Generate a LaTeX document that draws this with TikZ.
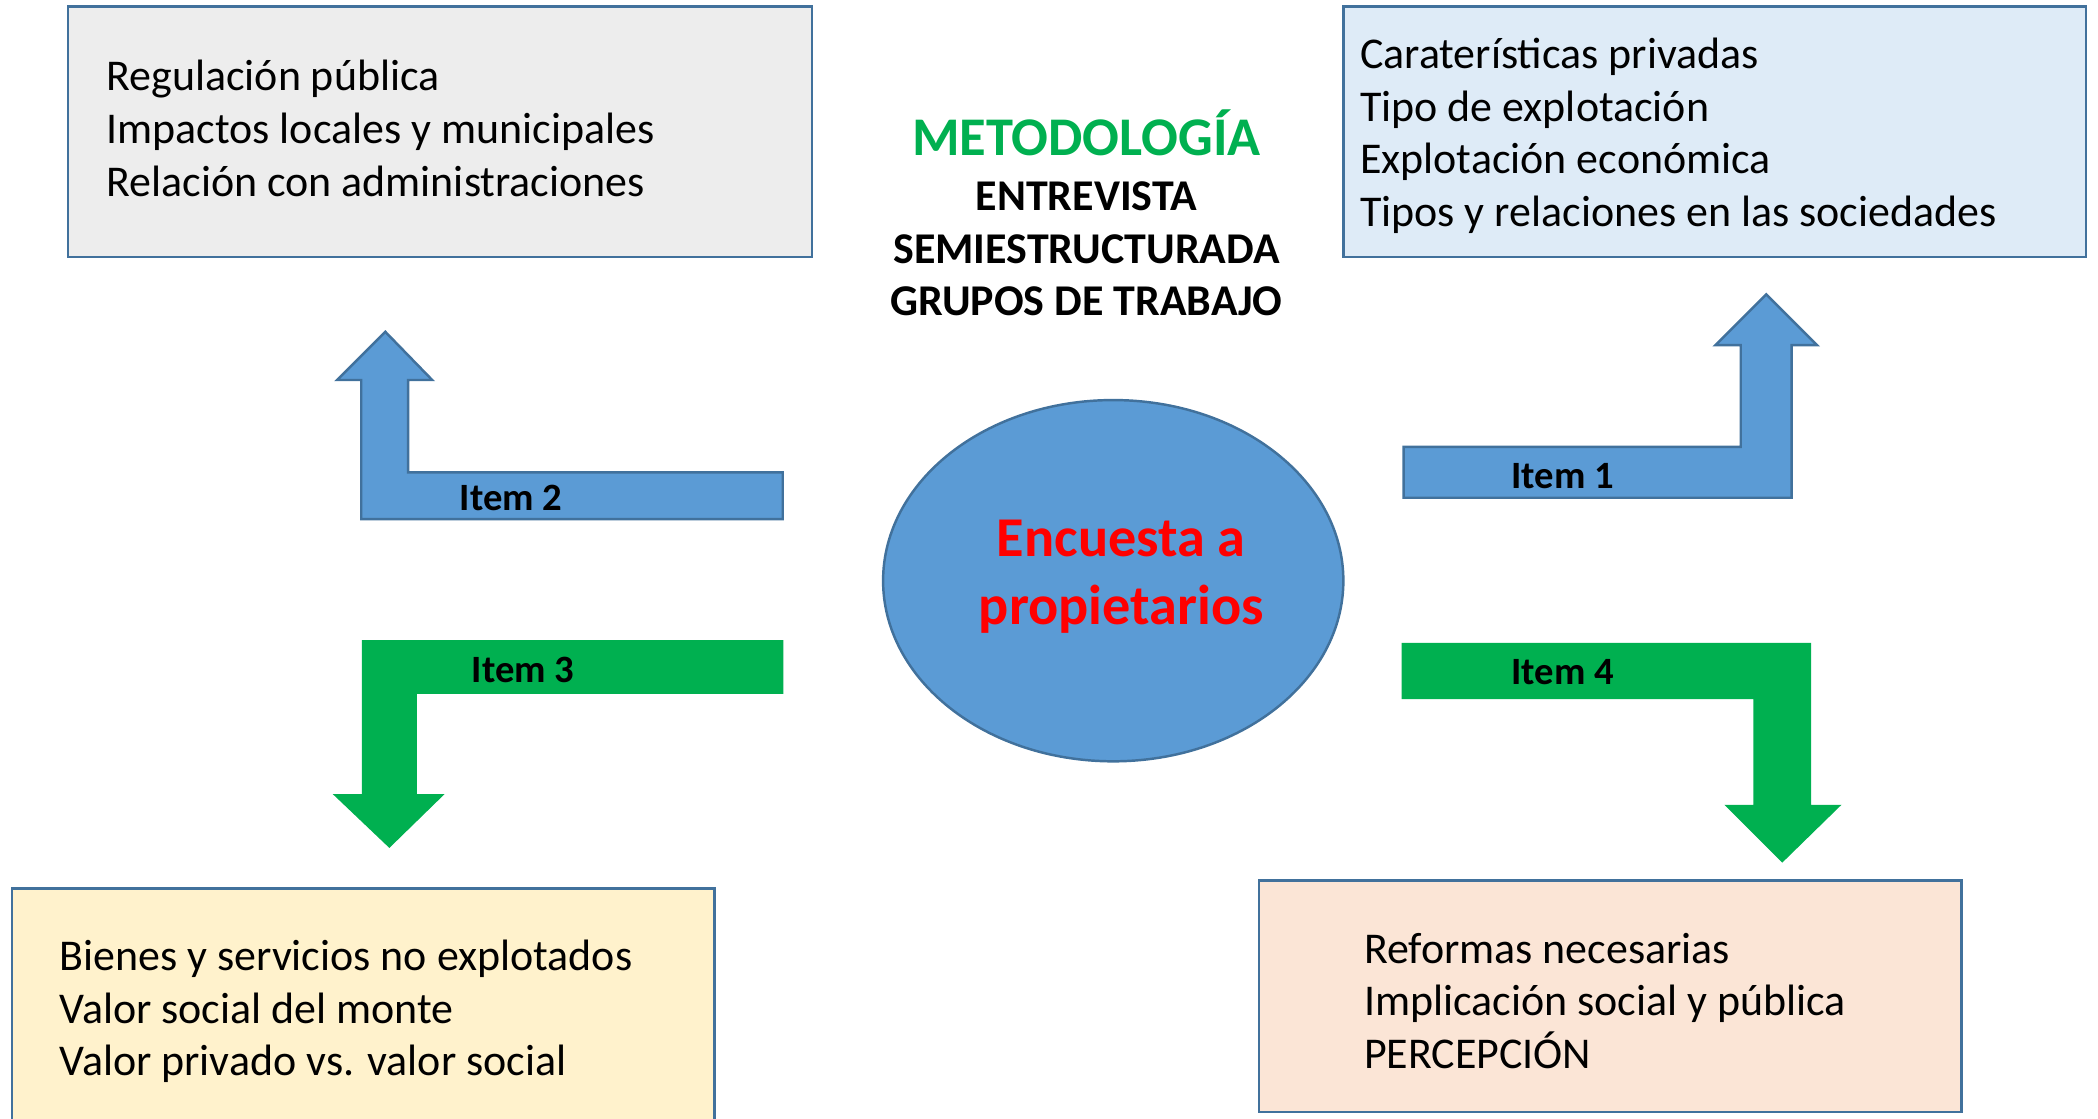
\documentclass[tikz,border=0pt]{standalone}
\usepackage{fontspec}
\setmainfont{Carlito}
\usepackage{tikz}
\usetikzlibrary{shapes.geometric}
\definecolor{edgeblue}{HTML}{41719C}
\definecolor{itemblue}{HTML}{5B9BD5}
\definecolor{itemgreen}{HTML}{00B050}
\definecolor{fillgray}{HTML}{EDEDED}
\definecolor{fillsky}{HTML}{DEEBF7}
\definecolor{fillsand}{HTML}{FFF2CC}
\definecolor{fillpeach}{HTML}{FBE5D6}
\newcommand{\pxu}{0.1338mm}

\begin{document}
\begin{tikzpicture}[x=0.1338mm, y=-0.1338mm,
  panel/.style={draw=edgeblue, line width=0.7pt, rectangle, inner sep=0pt},
  lines/.style={anchor=west, align=left, inner sep=0pt, font=\fontsize{12.5}{15}\selectfont},
  bluearrow/.style={fill=itemblue, draw=edgeblue, line width=0.7pt},
  greenarrow/.style={fill=itemgreen, draw=itemgreen, line width=0.4pt},
  itemlab/.style={font=\fontsize{11}{13}\selectfont\bfseries, inner sep=0pt}]
\useasboundingbox (0,0) rectangle (1568,836);
% four topic boxes
\node[panel, fill=fillgray, minimum width=556*\pxu, minimum height=187*\pxu] (publica) at (329,98.5) {};
\node[panel, fill=fillsky, minimum width=555*\pxu, minimum height=187*\pxu] (privada) at (1281.5,98.5) {};
\node[panel, fill=fillsand, minimum width=525*\pxu, minimum height=210*\pxu] (social) at (271.5,769) {};
\node[panel, fill=fillpeach, minimum width=525*\pxu, minimum height=173*\pxu] (reformas) at (1203.5,744.5) {};
\node[lines] (publica-txt) at (79,96) {Regulación pública\\Impactos locales y municipales\\Relación con administraciones};
\node[lines] (privada-txt) at (1016,101.5) {Caraterísticas privadas\\Tipo de explotación\\Explotación económica\\Tipos y relaciones en las sociedades};
\node[lines] (social-txt) at (44,756) {Bienes y servicios no explotados\\Valor social del monte\\Valor privado vs. valor social};
\node[lines] (reformas-txt) at (1019,748) {Reformas necesarias\\Implicación social y pública\\PERCEPCIÓN};
% method heading
\node[font=\fontsize{15.5}{18}\selectfont\bfseries, text=itemgreen, inner sep=0pt] (metodo) at (812,99) {METODOLOGÍA};
\node[font=\fontsize{12.5}{15}\selectfont\bfseries, align=center, inner sep=0pt] (tecnica) at (812,186) {ENTREVISTA\\SEMIESTRUCTURADA\\GRUPOS DE TRABAJO};
% central survey
\node[ellipse, draw=edgeblue, line width=0.7pt, fill=itemblue, minimum width=344*\pxu, minimum height=270*\pxu] (encuesta) at (832,434) {};
\node[font=\fontsize{16}{19.3}\selectfont\bfseries, text=red, align=center, inner sep=0pt] (encuesta-txt) at (838,431) {Encuesta a\\propietarios};
% bent arrows
\draw[bluearrow] (1049,334) -- (1301,334) -- (1301,258) -- (1282,258) -- (1320,220) -- (1358,258) -- (1339,258) -- (1339,372) -- (1049,372) -- cycle;
\draw[bluearrow] (585,353) -- (305,353) -- (305,284) -- (323,284) -- (288,248) -- (252,284) -- (270,284) -- (270,388) -- (585,388) -- cycle;
\draw[greenarrow] (585,479) -- (271,479) -- (271,594) -- (250,594) -- (291,633) -- (331,594) -- (311,594) -- (311,518) -- (585,518) -- cycle;
\draw[greenarrow] (1048,481) -- (1353,481) -- (1353,602) -- (1375,602) -- (1332,644) -- (1290,602) -- (1311,602) -- (1311,522) -- (1048,522) -- cycle;
\node[itemlab] (item1) at (1168,356) {Item 1};
\node[itemlab] (item2) at (382,372) {Item 2};
\node[itemlab] (item3) at (391,501) {Item 3};
\node[itemlab] (item4) at (1168,502) {Item 4};
\end{tikzpicture}
\end{document}
